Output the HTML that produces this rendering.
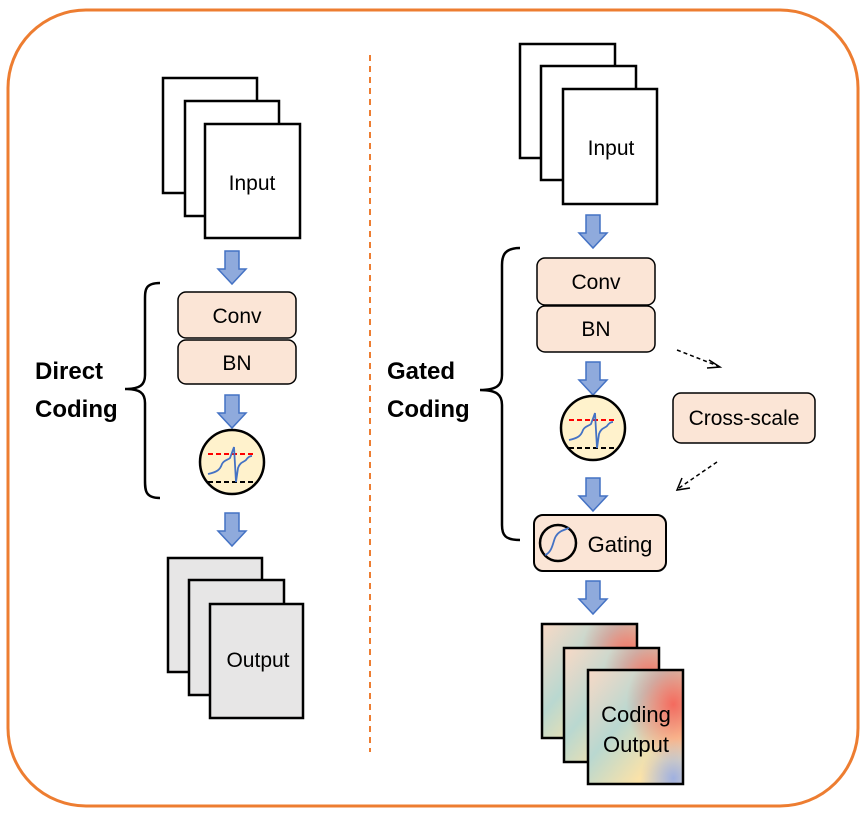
<!DOCTYPE html>
<html><head><style>body{margin:0;background:#fff}svg{display:block}text{font-family:"Liberation Sans",sans-serif}</style></head><body>
<svg width="863" height="836" viewBox="0 0 863 836" xmlns="http://www.w3.org/2000/svg">
<defs>
<g id="arr"><path d="M-7,0 H7 V18 H14 L0,33 L-14,18 H-7 Z" fill="#8faadc" stroke="#4472c4" stroke-width="1.5"/></g>
<g id="spike">
<circle r="32" fill="#fff2cc" stroke="#000" stroke-width="2.5"/>
<line x1="-24" y1="-8" x2="24" y2="-8" stroke="#f00" stroke-width="2" stroke-dasharray="5,3"/>
<line x1="-24" y1="20" x2="24" y2="20" stroke="#000" stroke-width="2" stroke-dasharray="5,3"/>
<path d="M-24,12 C-15,10 -12,8 -10,2 C-8,-2 -4,-2 -2,-4 L2,-15 L4,20 L6,6 C8,0 12,0 14,-2 C16,-5 18,-6 20,-6" fill="none" stroke="#4472c4" stroke-width="1.8"/>
</g>
<linearGradient id="g1" x1="0" y1="0" x2="1" y2="1"><stop offset="0" stop-color="#f8d9c6"/><stop offset="0.4" stop-color="#b9d8d0"/><stop offset="0.75" stop-color="#fbe2a8"/><stop offset="1" stop-color="#f6e4b8"/></linearGradient>
<radialGradient id="r1" cx="0.9" cy="0.3" r="0.5"><stop offset="0" stop-color="#f46a5e"/><stop offset="1" stop-color="#f46a5e" stop-opacity="0"/></radialGradient>
<radialGradient id="r2" cx="0.9" cy="0.95" r="0.35"><stop offset="0" stop-color="#9fb0e0"/><stop offset="1" stop-color="#9fb0e0" stop-opacity="0"/></radialGradient>
<g id="cp"><rect width="95" height="114" fill="url(#g1)"/><rect width="95" height="114" fill="url(#r1)"/><rect width="95" height="114" fill="url(#r2)"/><rect width="95" height="114" fill="none" stroke="#000" stroke-width="2.5"/></g>
</defs>
<rect x="8" y="10" width="850" height="796" rx="78" fill="none" stroke="#ed7d31" stroke-width="3"/>
<line x1="370" y1="55" x2="370" y2="752" stroke="#ed7d31" stroke-width="2" stroke-dasharray="6,5"/>

<!-- left -->
<g fill="#fff" stroke="#000" stroke-width="2.5">
<rect x="163" y="78" width="94" height="115"/><rect x="185" y="101" width="94" height="115"/><rect x="205" y="124" width="95" height="114"/>
</g>
<text x="252" y="190" font-size="21" text-anchor="middle">Input</text>
<use href="#arr" x="232" y="251"/>
<rect x="178" y="292" width="118" height="46" rx="8" fill="#fbe5d6" stroke="#000" stroke-width="1.5"/>
<rect x="178" y="340" width="118" height="44" rx="8" fill="#fbe5d6" stroke="#000" stroke-width="1.5"/>
<text x="237" y="323" font-size="21" text-anchor="middle">Conv</text>
<text x="237" y="370" font-size="21" text-anchor="middle">BN</text>
<use href="#arr" x="232" y="395"/>
<use href="#spike" x="232" y="462"/>
<use href="#arr" x="232" y="513"/>
<g fill="#e7e6e6" stroke="#000" stroke-width="2.5">
<rect x="168" y="558" width="94" height="114"/><rect x="189" y="580" width="95" height="115"/><rect x="210" y="604" width="93" height="114"/>
</g>
<text x="258" y="667" font-size="21" text-anchor="middle">Output</text>
<path d="M160,283 C145,283 145,290 145,300 L145,375 C145,385 140,389 125,389 C140,389 145,393 145,403 L145,480 C145,490 145,498 160,498" fill="none" stroke="#000" stroke-width="2.5"/>
<text x="35" y="379" font-size="24" font-weight="bold">Direct</text>
<text x="35" y="417" font-size="24" font-weight="bold">Coding</text>

<!-- right -->
<g fill="#fff" stroke="#000" stroke-width="2.5">
<rect x="520" y="44" width="95" height="114"/><rect x="541" y="66" width="95" height="114"/><rect x="563" y="89" width="94" height="115"/>
</g>
<text x="611" y="155" font-size="21" text-anchor="middle">Input</text>
<use href="#arr" x="593" y="215"/>
<rect x="537" y="258" width="118" height="47" rx="8" fill="#fbe5d6" stroke="#000" stroke-width="1.5"/>
<rect x="537" y="306" width="118" height="46" rx="8" fill="#fbe5d6" stroke="#000" stroke-width="1.5"/>
<text x="596" y="289" font-size="21" text-anchor="middle">Conv</text>
<text x="596" y="336" font-size="21" text-anchor="middle">BN</text>
<use href="#arr" x="593" y="362"/>
<use href="#spike" x="593" y="428"/>
<use href="#arr" x="593" y="478"/>
<rect x="534" y="515" width="132" height="56" rx="9" fill="#fbe5d6" stroke="#000" stroke-width="2"/>
<circle cx="558" cy="543" r="18" fill="none" stroke="#000" stroke-width="2.5"/>
<path d="M545,555 C553,552 553,540 556,536 C559,531 564,530 569,528" fill="none" stroke="#4472c4" stroke-width="1.8"/>
<text x="620" y="552" font-size="22" text-anchor="middle">Gating</text>
<use href="#arr" x="593" y="581"/>
<use href="#cp" x="542" y="624"/><use href="#cp" x="564" y="648"/><use href="#cp" x="588" y="670"/>
<text x="636" y="722" font-size="22" text-anchor="middle">Coding</text>
<text x="636" y="752" font-size="22" text-anchor="middle">Output</text>
<rect x="673" y="393" width="142" height="50" rx="8" fill="#fbe5d6" stroke="#000" stroke-width="1.5"/>
<text x="744" y="425" font-size="21" text-anchor="middle">Cross-scale</text>
<g stroke="#000" stroke-width="1.5" fill="none">
<line x1="677" y1="350" x2="718" y2="366" stroke-dasharray="4,3"/>
<path d="M709,360 L720,367 L707,368"/>
<line x1="717" y1="462" x2="679" y2="488" stroke-dasharray="4,3"/>
<path d="M682,478 L677,490 L690,488"/>
</g>
<path d="M520,248 C505,248 502,255 502,265 L502,375 C502,385 497,390 480,390 C497,390 502,395 502,405 L502,525 C502,535 505,540 520,540" fill="none" stroke="#000" stroke-width="2.5"/>
<text x="387" y="379" font-size="24" font-weight="bold">Gated</text>
<text x="387" y="417" font-size="24" font-weight="bold">Coding</text>
</svg>
</body></html>
